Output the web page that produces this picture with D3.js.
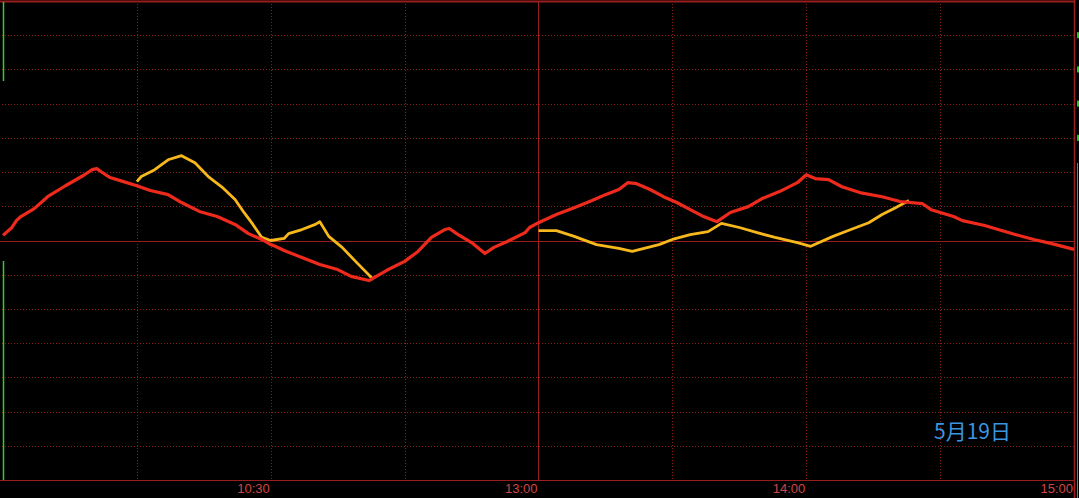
<!DOCTYPE html>
<html>
<head>
<meta charset="utf-8">
<script src="https://cdn.jsdelivr.net/npm/d3@7/dist/d3.min.js"></script>
<style>
  html, body { margin: 0; padding: 0; background: #000; }
  svg { display: block; }
</style>
</head>
<body>
<svg id="chart" width="1079" height="498"></svg>
<script>
// ---- data (minutes from 09:30 across the 240-minute trading session, % change) ----
const redMinutes = [0,2,3,4,7,10,14,18,20,21,22,24,27,30,33,37,40,44,48,52,55,58,60,61,63,67,71,75,78,82,86,90,93,96,99,100,102,105,108,110,113,117,118,120,124,128,132,135,138,140,142,145,148,151,154,157,160,163,167,170,174,178,180,182,185,188,192,197,201,206,208,213,215,220,223,227,231,235,240];
const redValues  = [0.015,0.038,0.058,0.070,0.093,0.128,0.160,0.190,0.207,0.210,0.201,0.184,0.172,0.160,0.146,0.134,0.111,0.085,0.070,0.047,0.020,0.003,-0.012,-0.017,-0.029,-0.050,-0.070,-0.085,-0.105,-0.117,-0.087,-0.061,-0.032,0.009,0.032,0.035,0.017,-0.006,-0.038,-0.020,-0.003,0.023,0.038,0.052,0.076,0.096,0.117,0.134,0.149,0.169,0.166,0.149,0.128,0.111,0.090,0.070,0.055,0.082,0.099,0.122,0.143,0.169,0.192,0.181,0.178,0.157,0.140,0.128,0.114,0.108,0.090,0.070,0.058,0.044,0.032,0.017,0.003,-0.009,-0.026];

const yellowMinutes = [30,31,34,37,40,43,46,49,52,54,56,58,60,63,64,67,70,71,73,76,79,83,84, 120,124,128,133,138,141,147,150,154,158,161,165,169,173,178,181,186,190,194,197,200,203];
const yellowValues  = [0.172,0.187,0.207,0.236,0.248,0.227,0.187,0.157,0.120,0.082,0.047,0.009,0.000,0.006,0.020,0.032,0.047,0.055,0.012,-0.020,-0.061,-0.114,null, 0.029,0.029,0.012,-0.012,-0.023,-0.032,-0.012,0.003,0.017,0.026,0.050,0.038,0.023,0.009,-0.006,-0.017,0.012,0.032,0.052,0.076,0.096,0.117];

const timeTicks  = [60,120,180,240];
const timeLabels = ["10:30","13:00","14:00","15:00"];
const gridMinutes = [30,60,90,150,180,210];
const gridValues  = [-0.6,-0.5,-0.4,-0.3,-0.2,-0.1,0.1,0.2,0.3,0.4,0.5,0.6];
const dateLabel = "5月19日";

// ---- drawing ----
const svg = d3.select("#chart");
const x = d3.scaleLinear().domain([0,240]).range([3,1074]);
const y = d3.scaleLinear().domain([-0.7,0.7]).range([480,1]);

const gridColor = "#8a1c1c";
const solidColor = "#9a1e1e";

svg.append("rect").attr("width",1079).attr("height",498).attr("fill","#000");

// dotted grid
svg.append("g").selectAll("line").data(gridValues).join("line")
  .attr("x1",2).attr("x2",x(240))
  .attr("y1",d=>Math.round(y(d))+0.5).attr("y2",d=>Math.round(y(d))+0.5)
  .attr("stroke",gridColor).attr("stroke-width",1).attr("stroke-dasharray","1,2");
svg.append("g").selectAll("line").data(gridMinutes).join("line")
  .attr("x1",d=>Math.round(x(d))+0.5).attr("x2",d=>Math.round(x(d))+0.5)
  .attr("y1",y(0.7)).attr("y2",y(-0.7))
  .attr("stroke",gridColor).attr("stroke-width",1).attr("stroke-dasharray","1,2");

// solid frame lines
svg.append("line").attr("x1",0).attr("x2",x(240)).attr("y1",1.5).attr("y2",1.5)
  .attr("stroke",solidColor).attr("stroke-width",2);
svg.append("line").attr("x1",0).attr("x2",x(240)).attr("y1",Math.round(y(0))+0.5).attr("y2",Math.round(y(0))+0.5)
  .attr("stroke",solidColor).attr("stroke-width",1);
svg.append("line").attr("x1",0).attr("x2",x(240)).attr("y1",480.5).attr("y2",480.5)
  .attr("stroke",solidColor).attr("stroke-width",1);
svg.append("line").attr("x1",Math.round(x(120))-0.5).attr("x2",Math.round(x(120))-0.5).attr("y1",1).attr("y2",480)
  .attr("stroke",solidColor).attr("stroke-width",1);
svg.append("line").attr("x1",x(240)+0.5).attr("x2",x(240)+0.5).attr("y1",0).attr("y2",498)
  .attr("stroke",solidColor).attr("stroke-width",1.5);

// right side decorations
svg.append("line").attr("x1",1077.5).attr("x2",1077.5).attr("y1",163).attr("y2",498)
  .attr("stroke","#7a7a7a").attr("stroke-width",1);
svg.append("g").selectAll("rect").data([0.6,0.5,0.4,0.3]).join("rect")
  .attr("x",1077).attr("y",d=>y(d)-3).attr("width",2).attr("height",6).attr("fill","#22cc22");

// left green bars
svg.append("line").attr("x1",3.5).attr("x2",3.5).attr("y1",2).attr("y2",81)
  .attr("stroke","#33cc33").attr("stroke-width",1.5);
svg.append("line").attr("x1",3.5).attr("x2",3.5).attr("y1",261).attr("y2",480)
  .attr("stroke","#33cc33").attr("stroke-width",1.5);

// time labels
svg.append("g").selectAll("text").data(timeTicks).join("text")
  .attr("x",d=>x(d)-1).attr("y",493)
  .attr("text-anchor","end")
  .attr("font-family","'Liberation Sans', Arial, sans-serif")
  .attr("font-size",13).attr("fill","#d04646")
  .text((d,i)=>timeLabels[i]);

// series
const redData = redMinutes.map((m,i)=>({m, v: redValues[i]}));
const yellowData = yellowMinutes.map((m,i)=>({m, v: yellowValues[i]}));
const line = d3.line().defined(d=>d.v!==null).x(d=>x(d.m)).y(d=>y(d.v));

svg.append("path").datum(yellowData).attr("d",line)
  .attr("fill","none").attr("stroke","#f7b81c").attr("stroke-width",2.8)
  .attr("stroke-linejoin","round");
svg.append("path").datum(redData).attr("d",line)
  .attr("fill","none").attr("stroke","#ee2a1c").attr("stroke-width",3.2)
  .attr("stroke-linejoin","round");

// date label
svg.append("text").attr("x",934).attr("y",439)
  .attr("font-family","'Noto Sans CJK SC', sans-serif")
  .attr("font-size",21).attr("fill","#3a96e0")
  .text(dateLabel);
</script>
</body>
</html>
